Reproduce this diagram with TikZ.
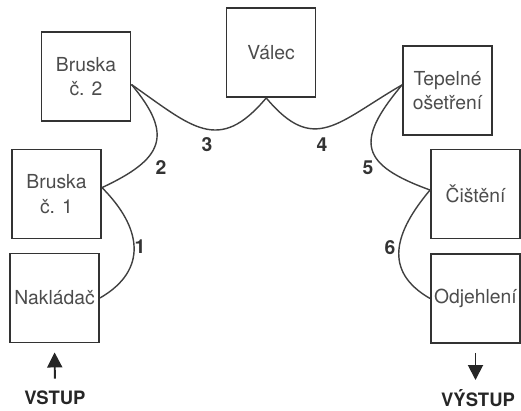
\documentclass[tikz,border=0pt]{standalone}
\usepackage{fontspec}
\setmainfont{TeX Gyre Heros}
\usetikzlibrary{positioning}
\usetikzlibrary{arrows.meta}

\tikzset{
stage/.style={draw=black!80, line width=1.1pt, minimum width=1.78cm, minimum height=1.78cm, inner sep=0pt, align=center, text=black!70, font=\fontsize{11}{14}\selectfont},
belt/.style={black!75, line width=0.8pt},
beltno/.style={text=black!80, font=\fontsize{11}{13}\selectfont\bfseries},
flow/.style={black!85, line width=1.1pt, -{Triangle[length=0.3cm, width=0.3cm]}},
ioname/.style={inner sep=0pt, text=black!85, font=\fontsize{10.5}{13}\selectfont\bfseries}
}

\begin{document}
\begin{tikzpicture}[x=0.02cm, y=0.02cm]

\path[use as bounding box] (0,0) rectangle (521,410);

% boxes
{
\node[stage] (b2) at (86,333.5) {Bruska\\č. 2};
\node[stage] (v) at (271,357.5) {Válec};
\node[stage] (tep) at (447.5,319.5) {Tepelné\\ošetření};
\node[stage] (b1) at (56.5,216) {Bruska\\č. 1};
\node[stage] (nak) at (54.5,112) {Nakládač};
\node[stage] (cis) at (475.5,216) {Čištění};
\node[stage] (odj) at (475.5,111.5) {Odjehlení};
}

% belts
{
\draw[belt] (nak.east) to[out=30, in=-45, looseness=1.3] (b1.8);
\draw[belt] (b2.-10) to[out=-50, in=25, looseness=1.6] (b1.8);
\draw[belt] (b2.-10) to[out=-35, in=-130, looseness=1.4] (v.-96);
\draw[belt] (v.-96) to[out=-50, in=-150, looseness=1.4] (tep.173);
\draw[belt] (tep.173) to[out=-130, in=160, looseness=1.75] (cis.175);
\draw[belt] (cis.175) to[out=-130, in=150, looseness=1.3] (odj.west);
}

% labellings
{
\node[beltno] (n1) at (140,163) {1};
\node[beltno] (n2) at (161,242) {2};
\node[beltno] (n3) at (207,265) {3};
\node[beltno] (n4) at (322,265) {4};
\node[beltno] (n5) at (368,242) {5};
\node[beltno] (n6) at (390,162) {6};
}

% in / out
\node[ioname] (in) at (55,12) {VSTUP};
\node[ioname] (out) at (478,12) {VÝSTUP};

\draw[flow, shorten <=0.24cm, shorten >=0.18cm] (in.north) -- (nak.south);
\draw[flow, shorten <=0.18cm] (odj.south) -- (odj.south |- 0,30);

\end{tikzpicture}
\end{document}
